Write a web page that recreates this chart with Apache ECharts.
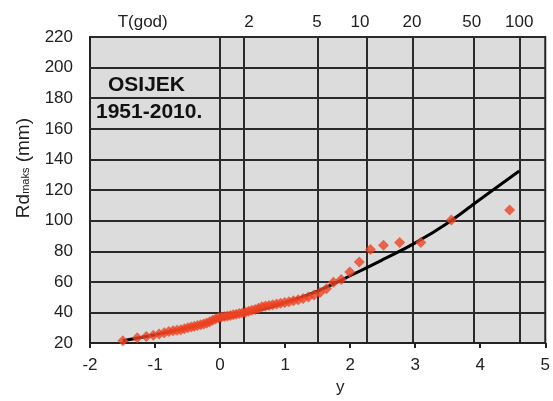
<!DOCTYPE html>
<html><head><meta charset="utf-8">
<script src="https://cdn.jsdelivr.net/npm/echarts@6/dist/echarts.min.js"></script>
<style>html,body{margin:0;padding:0;background:#fff}#c{width:553px;height:401px}</style>
</head><body><div id="c"></div>
<script>
// Gumbel reduced variate (plotting positions) of the 60 annual maxima
const obsY = [-1.495,-1.273,-1.134,-1.027,-0.937,-0.859,-0.788,-0.723,-0.662,-0.604,
  -0.549,-0.496,-0.444,-0.395,-0.346,-0.298,-0.251,-0.205,-0.159,-0.114,
  -0.069,-0.023,0.022,0.067,0.112,0.157,0.203,0.249,0.296,0.343,
  0.391,0.439,0.488,0.539,0.590,0.643,0.697,0.752,0.810,0.869,
  0.930,0.993,1.059,1.128,1.201,1.277,1.358,1.444,1.536,1.635,
  1.743,1.862,1.994,2.141,2.312,2.513,2.761,3.086,3.556,4.452];
// observed maximum daily precipitation Rd_maks (mm)
const obsRd = [21.5,23.5,24.3,25.2,26.0,26.8,27.5,28.0,28.4,28.8,
  29.4,30.0,30.6,31.0,31.5,32.0,32.5,33.2,34.0,35.0,
  35.8,36.5,37.0,37.3,37.7,38.1,38.5,38.9,39.3,39.7,
  40.2,40.8,41.4,42.0,42.8,43.8,44.2,44.6,45.0,45.5,
  46.0,46.5,47.0,47.6,48.3,49.2,50.2,51.5,53.0,55.5,
  59.8,61.5,66.5,73.0,81.2,84.0,85.7,85.8,100.4,107.0];
// fitted distribution curve
const fitY  = [-1.5,-1.0,-0.5,0.0,0.5,1.0,1.5,2.0,2.5,3.0,3.5,4.0,4.6];
const fitRd = [21.5,25.5,30.0,35.5,40.5,46.5,54.0,64.0,74.5,85.5,98.5,114.0,132.5];
// return period axis (T, years) and its reduced-variate positions
const returnPeriods = ['2','5','10','20','50','100'];
const returnPeriodY = [0.367,1.500,2.250,2.970,3.902,4.600];
const topLabelY = [-1.19,0.443,1.49,2.15,2.95,3.87,4.60];
const topLabels = ['T(god)','2','5','10','20','50','100'];
const verticalGridY = [0].concat(returnPeriodY);

const font = '"Liberation Sans", Arial, sans-serif';
const chart = echarts.init(document.getElementById('c'));
chart.setOption({
  backgroundColor:'#ffffff',
  animation:false,
  grid:{left:90,right:5,top:37,bottom:49,show:true,backgroundColor:'#dcdcdc',borderColor:'#222',borderWidth:2},
  xAxis:[{
    type:'value',position:'bottom',min:-2,max:5,interval:1,
    axisLine:{show:true,onZero:false,lineStyle:{color:'#222',width:2}},
    axisTick:{show:true,length:5,lineStyle:{color:'#222',width:2}},
    splitLine:{show:false},
    axisLabel:{margin:14,fontSize:17,color:'#222',fontFamily:font},
    name:'y',nameLocation:'middle',nameGap:34,
    nameTextStyle:{fontSize:17,color:'#222',fontFamily:font,padding:[0,0,0,45]}
  },{
    type:'value',position:'top',min:-2,max:5,
    axisLine:{show:false},
    axisTick:{show:false,customValues:verticalGridY},
    splitLine:{show:true,lineStyle:{color:'#2a2a2a',width:2}},
    axisLabel:{margin:6,fontSize:17,color:'#222',fontFamily:font,showMinLabel:true,showMaxLabel:true,
      customValues:topLabelY,
      formatter:function(v){
        for(let i=0;i<topLabelY.length;i++){ if(Math.abs(topLabelY[i]-v)<1e-6) return topLabels[i]; }
        return '';
      }}
  }],
  yAxis:{
    type:'value',min:20,max:220,interval:20,
    axisLine:{show:false},axisTick:{show:false},
    splitLine:{show:true,lineStyle:{color:'#2a2a2a',width:2}},
    axisLabel:{margin:17,fontSize:17,color:'#222',fontFamily:font},
    name:'Rd{s|maks} (mm)',nameLocation:'middle',nameRotate:90,nameGap:57,
    nameTextStyle:{fontSize:19,color:'#222',fontFamily:font,padding:[0,0,0,44],
      rich:{s:{fontSize:11,color:'#222',fontFamily:font,padding:[5,0,0,0]}}}
  },
  graphic:[
    {type:'text',left:108,top:75,style:{text:'OSIJEK',font:'bold 21px '+font,fill:'#111'}},
    {type:'text',left:96,top:102,style:{text:'1951-2010.',font:'bold 21px '+font,fill:'#111'}}
  ],
  series:[{
    type:'line',xAxisIndex:0,smooth:true,symbol:'none',
    data:fitY.map((x,i)=>[x,fitRd[i]]),
    lineStyle:{color:'#000',width:3},z:3
  },{
    type:'scatter',xAxisIndex:0,symbol:'diamond',symbolSize:11,
    data:obsY.map((x,i)=>[x,obsRd[i]]),
    itemStyle:{color:'#ee4422'},z:4
  }]
});
</script></body></html>
